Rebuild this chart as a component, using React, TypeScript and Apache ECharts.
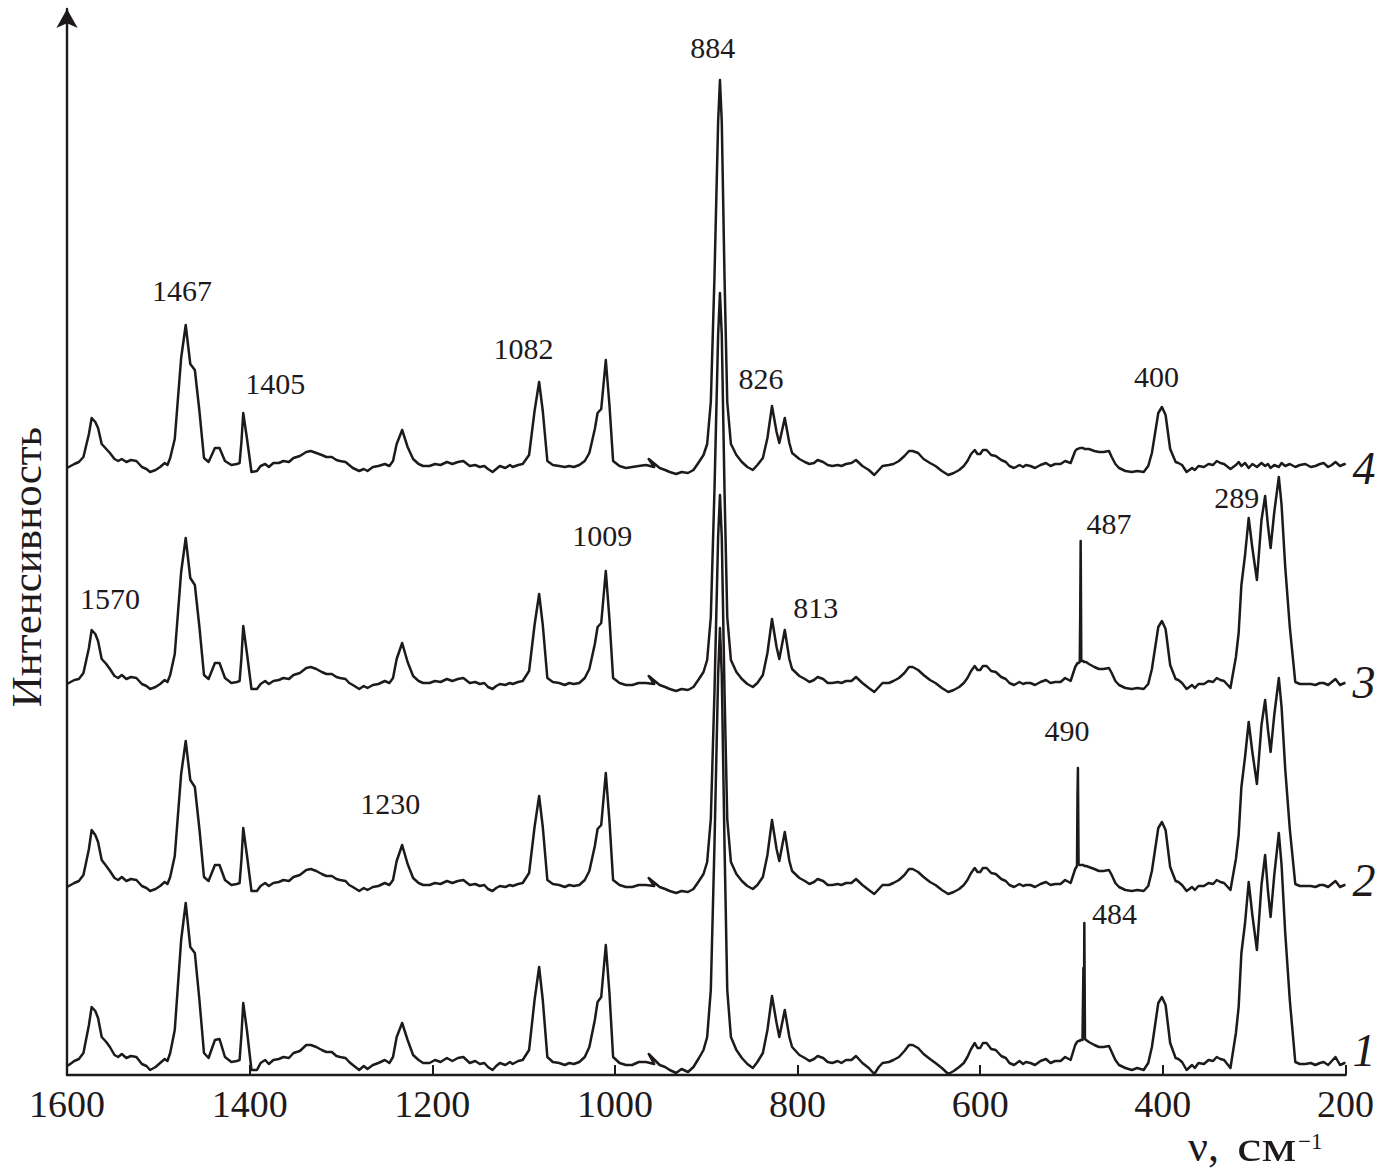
import React, { useEffect, useRef } from "react";
import * as echarts from "echarts";

// Wavenumbers (cm^-1): shared sampling grid for the four spectra, drawn from 1600 down to 200
const wavenumbers = [
  1600, 1598, 1592, 1587, 1582, 1576, 1573, 1569, 1566, 1562,
  1557, 1553, 1548, 1544, 1540, 1535, 1530, 1524, 1518, 1513,
  1509, 1503, 1498, 1493, 1490, 1487, 1482, 1475, 1470, 1465,
  1460, 1455, 1450, 1445, 1438, 1433, 1427, 1420, 1414, 1411,
  1409, 1407, 1403, 1398, 1392, 1388, 1383, 1379, 1374, 1368,
  1363, 1357, 1352, 1345, 1338, 1333, 1327, 1321, 1316, 1310,
  1305, 1301, 1295, 1291, 1287, 1280, 1275, 1271, 1265, 1259,
  1252, 1247, 1243, 1239, 1233, 1227, 1221, 1215, 1210, 1203,
  1197, 1191, 1184, 1178, 1172, 1166, 1159, 1153, 1148, 1143,
  1139, 1134, 1130, 1126, 1120, 1115, 1112, 1106, 1101, 1094,
  1088, 1083, 1079, 1074, 1068, 1061, 1055, 1050, 1045, 1039,
  1033, 1028, 1022, 1019, 1015, 1010, 1006, 1002, 995, 988,
  981, 974, 966, 957, 963, 951, 945, 940, 933, 927,
  920, 914, 908, 903, 899, 895, 891, 887, 885, 883,
  880, 877, 873, 867, 861, 855, 849, 844, 838, 833,
  828, 823, 820, 814, 809, 806, 798, 792, 787, 782,
  778, 772, 767, 762, 756, 752, 747, 741, 736, 729,
  722, 716, 711, 707, 700, 695, 689, 683, 678, 674,
  668, 662, 655, 649, 642, 635, 629, 623, 618, 614,
  610, 606, 603, 600, 597, 593, 588, 583, 577, 572,
  568, 563, 557, 553, 550, 545, 540, 534, 528, 523,
  518, 512, 507, 501, 496, 494, 493.5, 493, 492.3, 491,
  490.5, 490, 489.3, 488, 487, 486.5, 486, 485.3, 484, 481,
  475, 470, 465, 459, 456, 452, 448, 441, 434, 428,
  421, 416, 412, 405, 401, 397, 392, 386, 383, 379,
  374, 368, 365, 361, 355, 350, 345, 341, 337, 333,
  326, 320, 317, 314, 310, 306, 302, 297, 292, 288,
  285, 282, 278, 273, 270, 266, 261, 255, 250, 244,
  238, 233, 228, 224, 219, 215, 211, 206, 201, 200,
];

// Intensity of each spectrum above its own baseline (arbitrary units)
const spectrum1 = [
  9, 10, 14, 16, 22, 50, 68, 64, 57, 38,
  33, 28, 20, 18, 21, 17, 19, 18, 11, 9,
  5, 8, 12, 16, 14, 22, 45, 135, 172, 128,
  122, 75, 22, 17, 35, 36, 18, 13, 14, 15,
  40, 72, 45, 5, 5, 12, 15, 11, 15, 16,
  18, 17, 22, 24, 30, 30, 28, 25, 23, 23,
  19, 18, 17, 13, 10, 5, 9, 6, 10, 12,
  15, 12, 18, 38, 52, 35, 20, 15, 12, 12,
  15, 13, 17, 14, 17, 18, 12, 14, 11, 12,
  8, 5, 9, 12, 10, 13, 11, 14, 15, 25,
  75, 108, 75, 18, 13, 12, 10, 12, 11, 13,
  18, 28, 55, 73, 78, 130, 82, 18, 12, 10,
  10, 13, 13, 11, 21, 10, 8, 5, 2, 6,
  3, 8, 17, 25, 38, 85, 230, 400, 447, 400,
  230, 85, 38, 25, 17, 11, 7, 13, 22, 45,
  79, 52, 38, 65, 38, 28, 20, 17, 14, 16,
  19, 17, 13, 12, 14, 12, 15, 15, 19, 12,
  7, 1, 8, 12, 13, 15, 18, 24, 30, 30,
  27, 21, 16, 12, 7, 1, 4, 8, 12, 18,
  26, 32, 27, 27, 32, 32, 26, 25, 19, 17,
  12, 10, 14, 11, 13, 12, 10, 14, 16, 12,
  14, 14, 18, 15, 30, 33, 33, 34, 34, 34,
  35, 35, 35, 35, 107, 45, 152, 36, 35, 33,
  30, 28, 28, 29, 23, 15, 10, 7, 5, 7,
  5, 12, 28, 72, 78, 70, 32, 17, 16, 13,
  5, 10, 7, 12, 11, 15, 14, 18, 16, 15,
  7, 42, 68, 122, 152, 193, 160, 125, 190, 220,
  185, 158, 200, 242, 210, 142, 75, 13, 11, 11,
  12, 10, 12, 13, 10, 14, 18, 10, 12, 12,
];

const spectrum2 = [
  10, 11, 14, 16, 22, 48, 67, 62, 55, 37,
  31, 26, 19, 17, 20, 16, 18, 17, 11, 9,
  6, 8, 11, 15, 13, 20, 41, 123, 156, 117,
  110, 68, 20, 16, 32, 32, 17, 12, 13, 14,
  37, 69, 42, 6, 6, 11, 14, 11, 14, 15,
  17, 16, 20, 22, 27, 28, 26, 23, 21, 21,
  18, 17, 16, 12, 10, 6, 9, 7, 10, 11,
  14, 12, 17, 36, 52, 33, 19, 14, 12, 12,
  14, 13, 16, 14, 16, 17, 12, 13, 11, 12,
  8, 6, 9, 11, 10, 12, 11, 13, 14, 24,
  70, 101, 70, 17, 13, 12, 10, 12, 11, 12,
  17, 26, 51, 68, 72, 124, 76, 17, 12, 10,
  10, 12, 12, 11, 19, 10, 8, 6, 4, 6,
  5, 8, 16, 23, 35, 78, 205, 360, 402, 360,
  205, 78, 35, 23, 16, 11, 8, 12, 20, 42,
  77, 48, 36, 65, 36, 26, 19, 16, 13, 15,
  18, 16, 12, 12, 13, 12, 14, 14, 18, 12,
  7, 3, 8, 12, 12, 14, 17, 22, 28, 28,
  25, 20, 15, 12, 7, 3, 5, 8, 12, 17,
  24, 29, 25, 25, 29, 29, 24, 23, 18, 16,
  12, 10, 13, 11, 12, 12, 10, 13, 15, 12,
  13, 13, 17, 14, 28, 31, 100, 129, 33, 32,
  32, 32, 32, 32, 32, 32, 31, 31, 31, 30,
  28, 26, 26, 27, 22, 14, 10, 7, 6, 7,
  6, 11, 26, 69, 75, 67, 30, 16, 15, 12,
  6, 10, 7, 11, 11, 14, 13, 17, 15, 14,
  7, 38, 62, 110, 140, 175, 145, 113, 172, 197,
  168, 145, 182, 219, 190, 128, 68, 13, 11, 11,
  11, 10, 12, 12, 10, 13, 16, 10, 12, 12,
];

const spectrum3 = [
  11, 12, 15, 16, 22, 47, 65, 61, 54, 36,
  31, 26, 19, 17, 20, 16, 18, 17, 11, 9,
  6, 8, 11, 15, 13, 20, 41, 123, 157, 117,
  110, 68, 20, 16, 32, 32, 17, 12, 13, 14,
  37, 69, 42, 6, 6, 11, 14, 11, 14, 15,
  17, 16, 20, 22, 27, 28, 26, 23, 21, 21,
  18, 17, 16, 12, 10, 6, 9, 7, 10, 11,
  14, 12, 17, 36, 52, 33, 19, 14, 12, 12,
  14, 13, 16, 14, 16, 17, 12, 13, 11, 12,
  8, 6, 9, 11, 10, 12, 11, 13, 14, 24,
  70, 101, 70, 17, 13, 12, 10, 12, 11, 12,
  17, 26, 51, 68, 72, 124, 76, 17, 12, 10,
  10, 12, 12, 11, 19, 10, 8, 6, 4, 6,
  5, 8, 16, 23, 35, 78, 205, 360, 402, 360,
  205, 78, 35, 23, 16, 11, 8, 12, 20, 42,
  76, 48, 36, 65, 36, 26, 19, 16, 13, 15,
  18, 16, 12, 12, 13, 12, 14, 14, 18, 12,
  7, 3, 8, 12, 12, 14, 17, 22, 28, 28,
  25, 20, 15, 12, 7, 3, 5, 8, 12, 17,
  24, 29, 25, 25, 29, 29, 24, 23, 18, 16,
  12, 10, 13, 11, 12, 12, 10, 13, 15, 12,
  13, 13, 17, 14, 28, 31, 32, 32, 32, 33,
  80, 154, 34, 34, 34, 33, 33, 33, 33, 31,
  28, 26, 26, 27, 22, 14, 10, 7, 6, 7,
  6, 11, 26, 68, 74, 66, 30, 16, 15, 12,
  6, 10, 7, 11, 11, 14, 13, 17, 15, 14,
  7, 38, 62, 110, 140, 177, 147, 115, 175, 199,
  170, 147, 183, 218, 190, 128, 68, 13, 11, 11,
  11, 10, 12, 12, 10, 13, 16, 10, 12, 12,
];

const spectrum4 = [
  9, 10, 13, 15, 20, 43, 59, 55, 49, 33,
  28, 24, 18, 16, 18, 15, 17, 16, 10, 8,
  5, 7, 10, 14, 12, 19, 38, 119, 152, 113,
  107, 66, 19, 15, 29, 29, 16, 12, 13, 14,
  35, 64, 39, 5, 6, 11, 13, 10, 14, 14,
  16, 15, 19, 21, 25, 26, 24, 22, 20, 20,
  17, 16, 15, 12, 9, 6, 8, 6, 10, 11,
  13, 11, 16, 33, 47, 30, 18, 13, 11, 11,
  13, 12, 15, 13, 15, 16, 11, 12, 10, 11,
  8, 5, 8, 11, 9, 12, 10, 12, 13, 22,
  66, 95, 66, 16, 12, 11, 10, 11, 10, 12,
  16, 24, 48, 64, 68, 117, 72, 16, 11, 9,
  10, 11, 12, 10, 18, 9, 7, 5, 3, 5,
  4, 7, 15, 22, 33, 75, 200, 355, 397, 355,
  200, 75, 33, 22, 15, 10, 7, 12, 19, 39,
  71, 45, 34, 59, 34, 24, 18, 15, 13, 14,
  17, 15, 12, 11, 12, 11, 13, 14, 17, 11,
  7, 2, 7, 11, 12, 13, 16, 21, 26, 26,
  24, 18, 14, 11, 6, 2, 4, 7, 11, 16,
  23, 27, 23, 23, 27, 27, 22, 21, 17, 15,
  11, 9, 12, 10, 12, 11, 9, 12, 14, 11,
  13, 13, 16, 14, 26, 28, 28, 28, 28, 29,
  29, 29, 29, 29, 29, 29, 28, 28, 28, 28,
  26, 25, 25, 26, 20, 13, 9, 6, 5, 6,
  5, 11, 24, 64, 70, 62, 28, 15, 14, 12,
  5, 9, 7, 11, 10, 13, 12, 16, 14, 13,
  8, 12, 15, 11, 14, 9, 13, 10, 14, 11,
  13, 9, 12, 10, 14, 11, 13, 10, 12, 13,
  10, 11, 13, 14, 10, 12, 15, 11, 13, 12,
];

// Vertical stacking offsets of spectra 1..4 and their italic numbers
const spectrumOffsets = [0, 178, 380, 598];
const spectrumNames = ["1", "2", "3", "4"];
const nameShiftY = [-13, -5, -1, 3];

// Peak annotations: text and where it sits (wavenumber, stacked intensity)
const peakTexts = ["884", "1467", "1405", "1082", "826", "400", "1009", "487", "289", "1570", "813", "490", "1230", "484"];
const peakNu = [893, 1474, 1372, 1100, 840, 407, 1014, 459, 319, 1553, 780, 505, 1246, 453];
const peakY = [1028, 785, 692, 727, 697, 699, 540, 552, 578, 477, 468, 345, 272, 162];

const xMin = 200;
const xMax = 1600;
const xInterval = 200;

const INK = "#1e1a1b";
const SERIF = "'Liberation Serif', 'Times New Roman', serif";

export default function App() {
  const ref = useRef<HTMLDivElement>(null);

  useEffect(() => {
    document.body.style.margin = "0";
    if (!ref.current) return;
    const chart = echarts.init(ref.current, undefined, { renderer: "svg" });

    const spectra = [spectrum1, spectrum2, spectrum3, spectrum4];
    const lineSeries = spectra.map((s, i) => ({
      type: "line",
      name: spectrumNames[i],
      data: wavenumbers.map((nu, k) => [nu, s[k] + spectrumOffsets[i]]),
      showSymbol: false,
      symbol: "none",
      silent: true,
      clip: false,
      lineStyle: { color: INK, width: 2.5, join: "round" },
      z: 2,
    }));

    const staticGraphics: any[] = [
      {
        type: "text",
        x: 26,
        y: 567,
        rotation: Math.PI / 2,
        style: {
          text: "Интенсивность",
          fill: INK,
          font: `43px ${SERIF}`,
          align: "center",
          verticalAlign: "middle",
        },
      },
      {
        type: "text",
        x: 1188,
        y: 1146,
        style: {
          text: "ν,",
          fill: INK,
          font: `44px ${SERIF}`,
          align: "left",
          verticalAlign: "middle",
        },
      },
      {
        type: "text",
        x: 1237,
        y: 1146,
        scaleX: 1.25,
        style: {
          text: "см",
          fill: INK,
          font: `44px ${SERIF}`,
          align: "left",
          verticalAlign: "middle",
        },
      },
      {
        type: "text",
        x: 1298,
        y: 1141,
        style: {
          text: "−1",
          fill: INK,
          font: `23px ${SERIF}`,
          align: "left",
          verticalAlign: "middle",
        },
      },
    ];

    chart.setOption({
      animation: false,
      backgroundColor: "#ffffff",
      grid: { left: 67, right: 30, top: 9, bottom: 98, containLabel: false },
      xAxis: {
        type: "value",
        inverse: true,
        min: xMin,
        max: xMax,
        interval: xInterval,
        axisLine: { show: true, lineStyle: { color: INK, width: 2.4 } },
        axisTick: { show: true, inside: true, length: 10, lineStyle: { color: INK, width: 2 } },
        axisLabel: {
          color: INK,
          fontFamily: SERIF,
          fontSize: 38,
          margin: 10,
          formatter: (v: number) => String(v),
        },
        splitLine: { show: false },
      },
      yAxis: {
        type: "value",
        min: 0,
        max: 1066,
        axisLine: {
          show: true,
          lineStyle: { color: INK, width: 2.4 },
          symbol: ["none", "arrow"],
          symbolSize: [16, 19],
        },
        axisTick: { show: false },
        axisLabel: { show: false },
        splitLine: { show: false },
      },
      series: lineSeries,
    });

    const peakGraphics = peakTexts.map((t, i) => {
      const p = chart.convertToPixel({ gridIndex: 0 }, [peakNu[i], peakY[i]]) as number[];
      return {
        type: "text",
        x: p[0],
        y: p[1],
        style: {
          text: t,
          fill: INK,
          font: `30px ${SERIF}`,
          align: "center",
          verticalAlign: "middle",
        },
        z: 10,
      };
    });

    const last = wavenumbers.length - 1;
    const nameGraphics = spectra.map((s, i) => {
      const p = chart.convertToPixel({ gridIndex: 0 }, [wavenumbers[last], s[last] + spectrumOffsets[i]]) as number[];
      return {
        type: "text",
        x: p[0] + 7,
        y: p[1] + nameShiftY[i],
        style: {
          text: spectrumNames[i],
          fill: INK,
          font: `italic 46px ${SERIF}`,
          align: "left",
          verticalAlign: "middle",
        },
        z: 10,
      };
    });

    chart.setOption({ graphic: [...staticGraphics, ...peakGraphics, ...nameGraphics] });

    return () => chart.dispose();
  }, []);

  return <div ref={ref} style={{ width: 1377, height: 1173 }} />;
}
